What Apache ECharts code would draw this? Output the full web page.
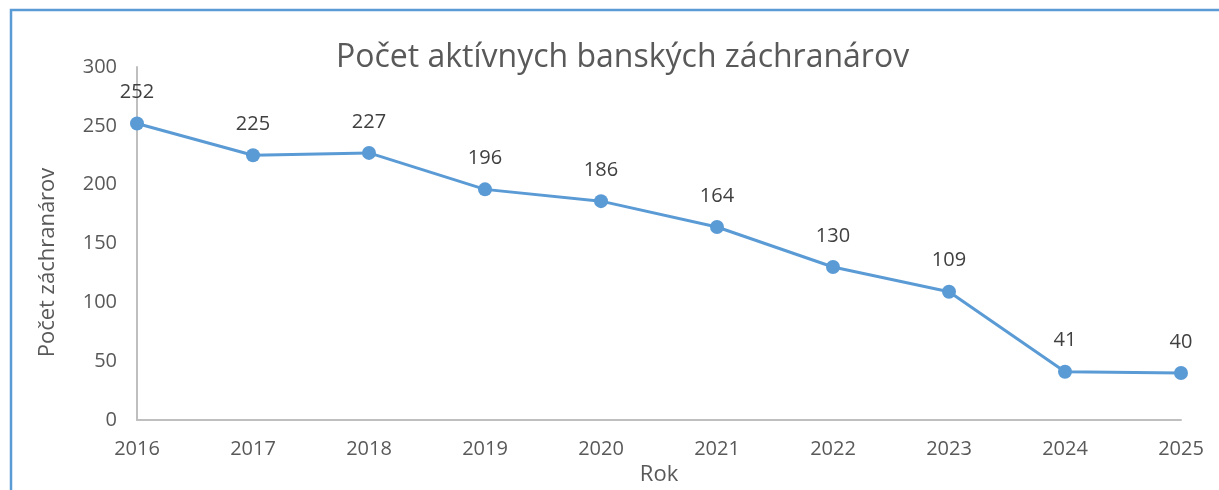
<!DOCTYPE html>
<html>
<head>
<meta charset="utf-8">
<script src="https://cdn.jsdelivr.net/npm/echarts@6/dist/echarts.min.js"></script>
<style>
  html, body { margin: 0; padding: 0; background: #fff; }
  #container { width: 1219px; height: 490px; }
</style>
</head>
<body>
<div id="container"></div>
<script>
var years = ["2016", "2017", "2018", "2019", "2020", "2021", "2022", "2023", "2024", "2025"];
var rescuers = [252, 225, 227, 196, 186, 164, 130, 109, 41, 40];

var font = "Open Sans";
var myChart = echarts.init(document.getElementById("container"));
myChart.setOption({
  animation: false,
  textStyle: { fontFamily: font },
  title: {
    text: "Počet aktívnych banských záchranárov",
    left: 331,
    top: 37,
    textStyle: { fontFamily: font, fontSize: 32, fontWeight: "normal", color: "#595959" }
  },
  graphic: [
    {
      type: "rect",
      shape: { x: 11, y: 10, width: 1400, height: 700 },
      style: { fill: "none", stroke: "#5b9bd5", lineWidth: 2.5 }
    }
  ],
  grid: { left: 137, right: 38, top: 67, bottom: 70, containLabel: false, outerBoundsMode: "none" },
  xAxis: {
    type: "category",
    data: years,
    boundaryGap: false,
    name: "Rok",
    nameLocation: "middle",
    nameGap: 40,
    nameTextStyle: { fontFamily: font, fontSize: 22, color: "#595959" },
    axisLine: { lineStyle: { color: "#bfbfbf", width: 2 } },
    axisTick: { show: false },
    axisLabel: { fontFamily: font, fontSize: 20, color: "#595959", margin: 19 }
  },
  yAxis: {
    type: "value",
    min: 0,
    max: 300,
    interval: 50,
    name: "Počet záchranárov",
    nameLocation: "middle",
    nameGap: 78,
    nameTextStyle: { fontFamily: font, fontSize: 22, color: "#595959", padding: [0, 0, 0, -38] },
    axisLine: { show: true, lineStyle: { color: "#bfbfbf", width: 2 } },
    axisTick: { show: false },
    splitLine: { show: false },
    axisLabel: { fontFamily: font, fontSize: 20, color: "#595959", margin: 20 }
  },
  series: [
    {
      type: "line",
      data: rescuers,
      symbol: "circle",
      symbolSize: 14,
      lineStyle: { color: "#5b9bd5", width: 3 },
      itemStyle: { color: "#5b9bd5" },
      label: {
        show: true,
        position: "top",
        distance: 14,
        fontFamily: font,
        fontSize: 20,
        color: "#404040"
      }
    }
  ]
});
</script>
</body>
</html>
